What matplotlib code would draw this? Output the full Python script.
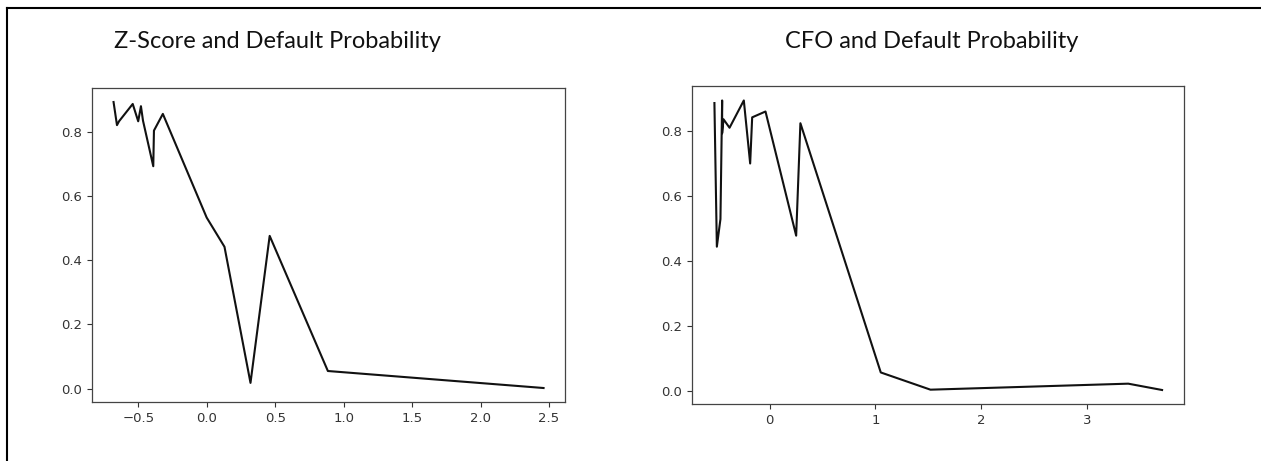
import matplotlib
matplotlib.use('Agg')
import matplotlib.pyplot as plt
from matplotlib.lines import Line2D

# Z-Score vs default probability
zscore_x = [-0.68, -0.655, -0.64, -0.54, -0.50, -0.48, -0.465, -0.39, -0.385, -0.32,
            0.0, 0.13, 0.32, 0.46, 0.885, 2.46]
zscore_p = [0.893, 0.821, 0.833, 0.887, 0.833, 0.880, 0.835, 0.693, 0.804, 0.856,
            0.533, 0.442, 0.018, 0.476, 0.055, 0.002]

# CFO vs default probability
cfo_x = [-0.523, -0.50, -0.466, -0.45, -0.45, -0.437, -0.38, -0.245, -0.185, -0.166,
         -0.04, 0.25, 0.29, 1.05, 1.52, 3.39, 3.71]
cfo_p = [0.885, 0.443, 0.528, 0.893, 0.792, 0.835, 0.809, 0.893, 0.699, 0.841,
         0.859, 0.477, 0.823, 0.056, 0.003, 0.0215, 0.002]

titles = ['Z-Score and Default Probability', 'CFO and Default Probability']

plt.rcParams['font.family'] = ['DejaVu Sans']
fig = plt.figure(figsize=(12.61, 4.61), dpi=100)

ax1 = fig.add_axes([0.0730, 0.1273, 0.3751, 0.6824])
ax2 = fig.add_axes([0.5488, 0.1226, 0.3905, 0.6909])

for ax, xs, ys in [(ax1, zscore_x, zscore_p), (ax2, cfo_x, cfo_p)]:
    ax.plot(xs, ys, color='#111111', linewidth=1.5)
    ax.tick_params(labelsize=9.5, length=3.5, width=0.8, colors='#333333')
    for s in ax.spines.values():
        s.set_color('#444444')
        s.set_linewidth(0.9)

ax1.set_xticks([-0.5, 0.0, 0.5, 1.0, 1.5, 2.0, 2.5])
ax2.set_xticks([0, 1, 2, 3])

# titles sit outside the axes, like in the document
fig.text(277 / 1261, 1 - 48 / 461, titles[0], ha='center', va='baseline',
         fontsize=17, family='Lato', color='#111111')
fig.text(932 / 1261, 1 - 48 / 461, titles[1], ha='center', va='baseline',
         fontsize=17, family='Lato', color='#111111')

# border of the table cell (top and left only)
fig.add_artist(Line2D([7 / 1261, 1], [1 - 8 / 461, 1 - 8 / 461], color='black', linewidth=1.5))
fig.add_artist(Line2D([7 / 1261, 7 / 1261], [0, 1 - 8 / 461], color='black', linewidth=1.5))

fig.savefig('out.png', dpi=100)
